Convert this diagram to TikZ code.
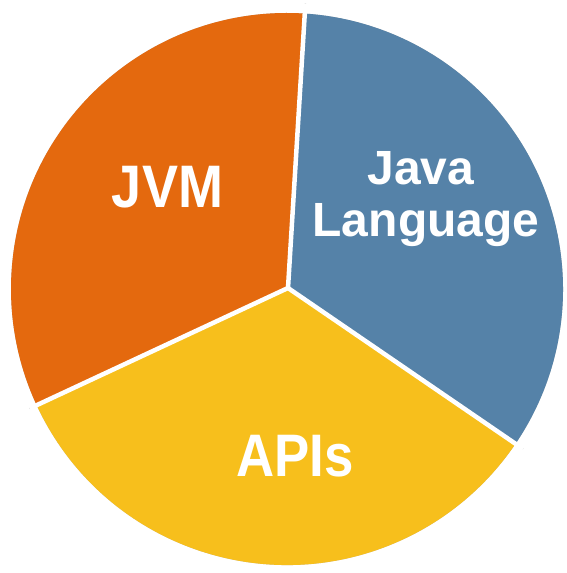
\documentclass[tikz,border=0pt]{standalone}
\usepackage{fontspec}
\usetikzlibrary{calc}
\setmainfont{Liberation Sans}
\definecolor{jvmc}{HTML}{E4690E}
\definecolor{langc}{HTML}{5582A8}
\definecolor{apic}{HTML}{F7BF1C}
\begin{document}
\begin{tikzpicture}[x=1pt,y=1pt,
  gap/.style={draw=white, line width=4.5pt},
  gapshadow/.style={draw=black, opacity=0.35, line width=1.3pt},
  shadowfill/.style={fill=black, opacity=0.25},
  lbl/.style={text=white, inner sep=0pt, anchor=base}]
\useasboundingbox (0,0) rectangle (567,573);
\fill[white] (0,0) rectangle (567,573);
\coordinate (C) at (287,284);
% JVM slice (orange)
\begin{scope}[shift={(146:2.5)}]
  \fill[shadowfill, shift={(1.2,-1.2)}] (C) -- ++(86.5:276) arc[start angle=86.5, end angle=205, radius=276] -- cycle;
  \fill[jvmc] (C) -- ++(86.5:276) arc[start angle=86.5, end angle=205, radius=276] -- cycle;
\end{scope}
% Java Language slice (blue)
\begin{scope}[shift={(26:2.5)}]
  \fill[shadowfill, shift={(1.2,-1.2)}] (C) -- ++(-34.4:276) arc[start angle=-34.4, end angle=86.5, radius=276] -- cycle;
  \fill[langc] (C) -- ++(-34.4:276) arc[start angle=-34.4, end angle=86.5, radius=276] -- cycle;
\end{scope}
% APIs slice (yellow)
\begin{scope}[shift={(265:4)}]
  \fill[shadowfill, shift={(1.2,-1.2)}] (C) -- ++(205:276) arc[start angle=205, end angle=325.6, radius=276] -- cycle;
  \fill[apic] (C) -- ++(205:276) arc[start angle=205, end angle=325.6, radius=276] -- cycle;
\end{scope}
% white separators
\coordinate (J) at (288,285);
\coordinate (b1) at ($(J)+(86.5:285)$);
\coordinate (b2) at ($(J)+(205:285)$);
\coordinate (b3) at ($(J)+(325.6:285)$);
\draw[gapshadow, shift={(176.5:2.4)}] (J) -- (b1);
\draw[gapshadow, shift={(115:2.4)}] (J) -- (b2);
\draw[gapshadow, shift={(55.6:2.4)}] (J) -- (b3);
\draw[gap] (J) -- (b1);
\draw[gap] (J) -- (b2);
\draw[gap] (J) -- (b3);
% labels
\node[lbl, font=\bfseries\fontsize{60}{60}\selectfont] (jvm) at (167.5,365) {\scalebox{0.9}[1]{JVM}};
\node[lbl, font=\bfseries\fontsize{48}{48}\selectfont] (java) at (421,388) {Java};
\node[lbl, font=\bfseries\fontsize{48}{48}\selectfont] (lang) at (426,336) {Language};
\node[lbl, font=\bfseries\fontsize{60}{60}\selectfont] (apis) at (295,96) {\scalebox{0.88}[1]{APIs}};
\end{tikzpicture}
\end{document}
